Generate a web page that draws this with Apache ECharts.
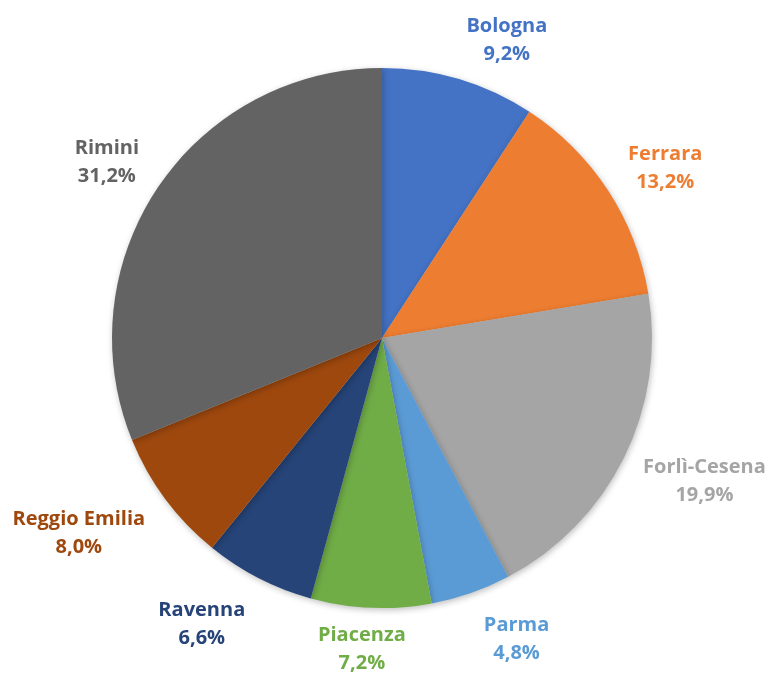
<!DOCTYPE html>
<html>
<head>
<meta charset="utf-8">
<script src="https://cdn.jsdelivr.net/npm/echarts@6/dist/echarts.min.js"></script>
<style>
  html, body { margin: 0; padding: 0; background: #fff; }
  #chart { width: 773px; height: 675px; }
</style>
</head>
<body>
<div id="chart"></div>
<script>
// province shares (%), clockwise from 12 o'clock
var provinces = ['Bologna', 'Ferrara', 'Forlì-Cesena', 'Parma', 'Piacenza', 'Ravenna', 'Reggio Emilia', 'Rimini']
var shares = [9.2, 13.2, 19.9, 4.8, 7.2, 6.6, 8.0, 31.2]
var colors = ['#4472C4', '#ED7D31', '#A5A5A5', '#5B9BD5', '#70AD47', '#264478', '#9E480E', '#636363']
// small label nudges (px) to mimic Excel's "best fit" placement
var labelNudge = [[-6, -10], [-10, -6], [-5, 10], [-2, 18], [41, 3], [39, 36], [10, 32], [11, -8]]

var chart = echarts.init(document.getElementById('chart'))

var pieData = provinces.map(function (name, i) {
  return {
    name: name,
    value: shares[i],
    itemStyle: { color: colors[i] },
    label: { color: colors[i] }
  }
})

chart.setOption({
  animation: false,
  series: [
    {
      type: 'pie',
      center: [382, 338],
      radius: 270,
      startAngle: 90,
      clockwise: true,
      data: pieData,
      itemStyle: {
        borderWidth: 0,
        shadowBlur: 6,
        shadowColor: 'rgba(0,0,0,0.25)',
        shadowOffsetX: 1,
        shadowOffsetY: 2
      },
      label: {
        position: 'outside',
        overflow: 'none',
        fontFamily: 'Open Sans',
        fontWeight: 'bold',
        fontSize: 20,
        lineHeight: 28,
        formatter: function (p) {
          return '{a|' + p.name + '}\n{a|' + p.value.toFixed(1).replace('.', ',') + '%}'
        },
        rich: {
          a: { align: 'center', fontFamily: 'Open Sans', fontWeight: 'bold', fontSize: 20, lineHeight: 28 }
        }
      },
      labelLine: { show: false, length: 30, length2: 0 },
      labelLayout: function (params) {
        var n = labelNudge[params.dataIndex]
        return { dx: n[0], dy: n[1] }
      },
      emphasis: { disabled: true }
    }
  ]
})
</script>
</body>
</html>
